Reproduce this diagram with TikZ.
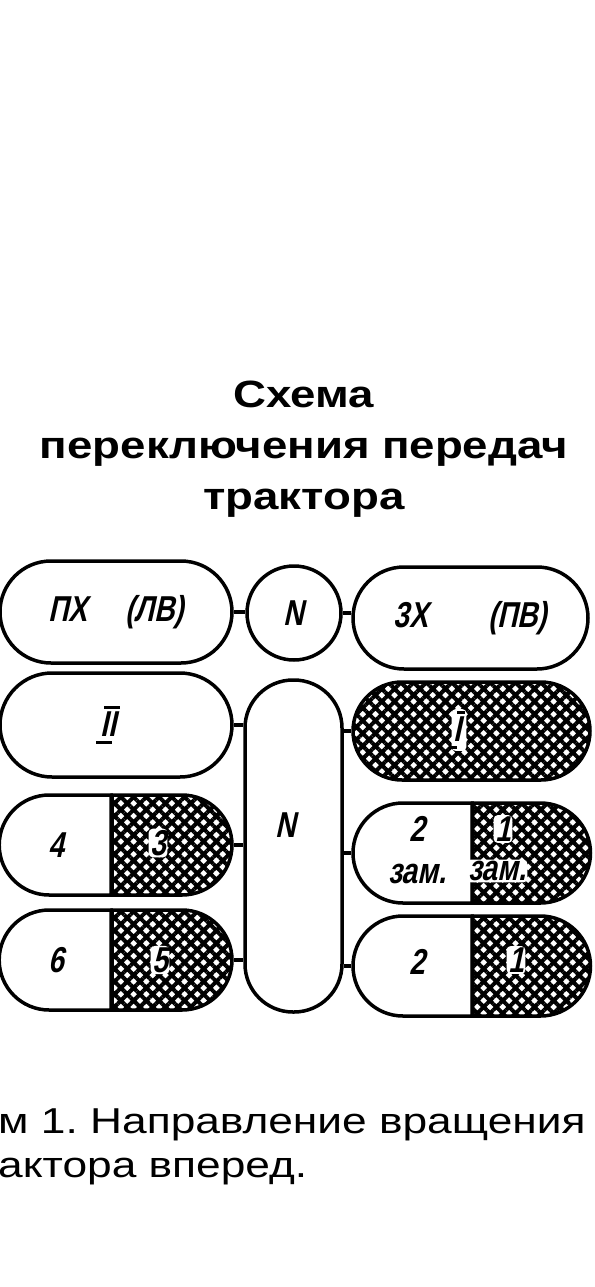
\documentclass[tikz,border=0pt]{standalone}
\usepackage{fontspec}
\setmainfont{Liberation Sans}
\newfontfamily\gostfont[FakeSlant=0.22,FakeStretch=0.78]{Liberation Sans Bold}
\newfontfamily\titlefont[FakeStretch=1.2]{Liberation Sans Bold}
\newfontfamily\captionfont[FakeStretch=1.23]{Liberation Sans}
\usetikzlibrary{shapes.misc,patterns.meta}
\tikzset{
  gearbox/.style={draw, line width=3.5pt, rounded rectangle, inner sep=0pt, minimum height=100pt, font=\gostfont\fontsize{36}{42}\selectfont, align=center},
  gearleft/.style={gearbox, rounded rectangle right arc=none, minimum width=#1},
  gearright/.style={gearbox, rounded rectangle left arc=none, minimum width=#1, gearhatch},
  gearhatch/.style={pattern={Hatch[angle=45,distance=9pt,line width=4pt]}},
  gearlabel/.style={inner sep=0pt, align=center, font=\gostfont\fontsize{36}{42}\selectfont},
  hatchtag/.style={gearlabel, fill=white, inner sep=1.5pt, rounded corners=4pt},
  neutral/.style={draw, line width=3.5pt, inner sep=0pt, font=\gostfont\fontsize{36}{40}\selectfont},
  gearlink/.style={line width=3.5pt}
}
\newcommand{\gearnum}[1]{\setbox0\hbox{#1}\vbox{\offinterlineskip\hbox{\kern4pt\vrule height 3.5pt depth 0pt width \wd0}\kern3pt\copy0\kern4pt\hbox{\kern-4pt\vrule height 3.5pt depth 0pt width \wd0}}}

\begin{document}
\begin{tikzpicture}[x=1pt,y=-1pt]
\useasboundingbox (0,0) rectangle (594,1287);
\node[align=center, font=\titlefont\fontsize{38}{51}\selectfont] (title) at (304,449) {Схема\\переключения передач\\трактора};
\node[neutral, circle, minimum size=94pt] (n1) at (294,613) {N};
\node[neutral, rectangle, rounded corners=48pt, minimum width=97pt, minimum height=332pt] (nv) at (293.5,846) {};
\node[gearlabel] (nvlabel) at (286,825) {N};
\node[gearbox, minimum width=232pt, minimum height=102pt] (rev) at (116,612) {ПХ\hspace{38pt}(ЛВ)};
\node[gearbox, minimum width=235pt, minimum height=102pt] (fwd) at (470.5,618) {3Х\hspace{60pt}(ПВ)};
\node[gearbox, minimum width=232pt, minimum height=104pt] (g2) at (116,725) {};
\node[gearlabel] (g2label) at (110,725) {\gearnum{II}};
\node[gearbox, gearhatch, minimum width=237pt, minimum height=98pt] (g1) at (471.5,731) {};
\node[hatchtag] (g1label) at (459,730) {\gearnum{I}};
\node[gearleft=112pt] (g4) at (56,845) {4};
\node[gearright=120pt] (g3) at (172,845) {};
\node[hatchtag] (g3label) at (158,843) {3};
\node[gearleft=112pt] (g6) at (56,960) {6};
\node[gearright=120pt] (g5) at (172,960) {};
\node[hatchtag] (g5label) at (160,960) {5};
\node[gearleft=119pt] (g2s) at (412.5,853) {};
\node[gearlabel] (g2slabel) at (417,850) {2\\зам.};
\node[gearright=118pt] (g1s) at (531.5,853) {};
\node[hatchtag] (g1slabel) at (503,829) {1};
\node[hatchtag] (g1szam) at (497,871) {зам.};
\node[gearleft=119pt] (g2r) at (412.5,966) {};
\node[gearlabel] (g2rlabel) at (417,962) {2};
\node[gearright=118pt] (g1r) at (531.5,966) {};
\node[hatchtag] (g1rlabel) at (516,960) {1};
\draw[gearlink] (rev.east) -- (rev.east -| n1.west);
\draw[gearlink] (n1.east) -- (n1.east -| fwd.west);
\draw[gearlink] (g2.east) -- (g2.east -| nv.west);
\draw[gearlink] (g3.east) -- (g3.east -| nv.west);
\draw[gearlink] (g5.east) -- (g5.east -| nv.west);
\draw[gearlink] (g1.west) -- (g1.west -| nv.east);
\draw[gearlink] (g2s.west) -- (g2s.west -| nv.east);
\draw[gearlink] (g2r.west) -- (g2r.west -| nv.east);
\node[anchor=base west, align=left, inner sep=0pt, font=\captionfont\fontsize{36}{44}\selectfont] (caption) at (-2,1177) {м 1.\ Направление вращения\\актора вперед.};
\end{tikzpicture}
\end{document}
